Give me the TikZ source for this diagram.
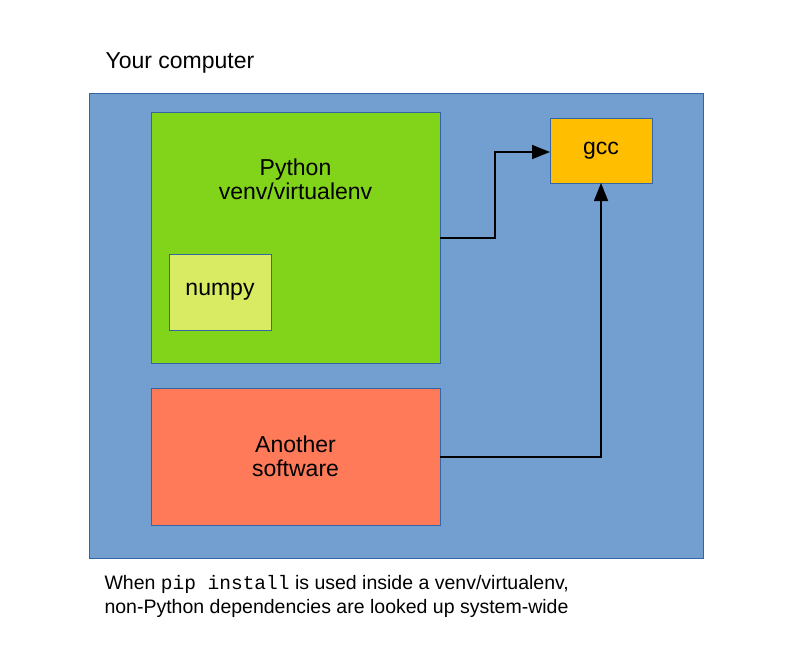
\documentclass[tikz,border=0pt]{standalone}
\usepackage{fontspec}
\setmainfont{Liberation Sans}
\setmonofont{Liberation Mono}
\usetikzlibrary{arrows.meta}
\definecolor{bluebg}{HTML}{729FCF}
\definecolor{edge}{HTML}{3465A4}
\definecolor{greenb}{HTML}{81D41A}
\definecolor{numpyc}{HTML}{D9EA63}
\definecolor{redb}{HTML}{FF7A59}
\definecolor{gccc}{HTML}{FFBF00}
\begin{document}
\begin{tikzpicture}[x=1pt,y=-1pt,
  box/.style={draw=edge,line width=1pt},
  conn/.style={line width=1.5pt,-{Triangle[length=18pt,width=14pt]}},
  lbl/.style={font=\fontsize{23}{27}\selectfont,align=center}]
\useasboundingbox (0,0) rectangle (800,667);
\fill[white] (0,0) rectangle (800,667);
\node[anchor=west,font=\fontsize{23}{27}\selectfont] (title) at (102,63) {Your computer};
\draw[box,fill=bluebg] (89,93) rectangle (703,558);
\draw[box,fill=greenb] (151,112) rectangle (440,363);
\node[lbl] (py) at (295.5,179) {Python\\[-3pt]venv/virtualenv};
\draw[box,fill=numpyc] (169,254) rectangle (271,330);
\node[lbl] (np) at (220,292) {numpy};
\draw[box,fill=redb] (151,388) rectangle (440,525);
\node[lbl] (an) at (295.5,456) {Another\\[-3pt]software};
\draw[box,fill=gccc] (550,118) rectangle (652,183);
\node[lbl] (gcc) at (601,150.5) {gcc};
\coordinate (gl) at (550,152);
\coordinate (gb) at (601,183);
\coordinate (pr) at (440,238);
\coordinate (ar) at (440,457);
\draw[conn] (pr) -- (495,238) -- (495,152) -- (gl);
\draw[conn] (ar) -- (601,457) -- (gb);
\node[anchor=north west,align=left,font=\fontsize{19.5}{24}\selectfont] (cap) at (101,572)
 {When \texttt{pip install} is used inside a venv/virtualenv,\\non-Python dependencies are looked up system-wide};
\end{tikzpicture}
\end{document}
